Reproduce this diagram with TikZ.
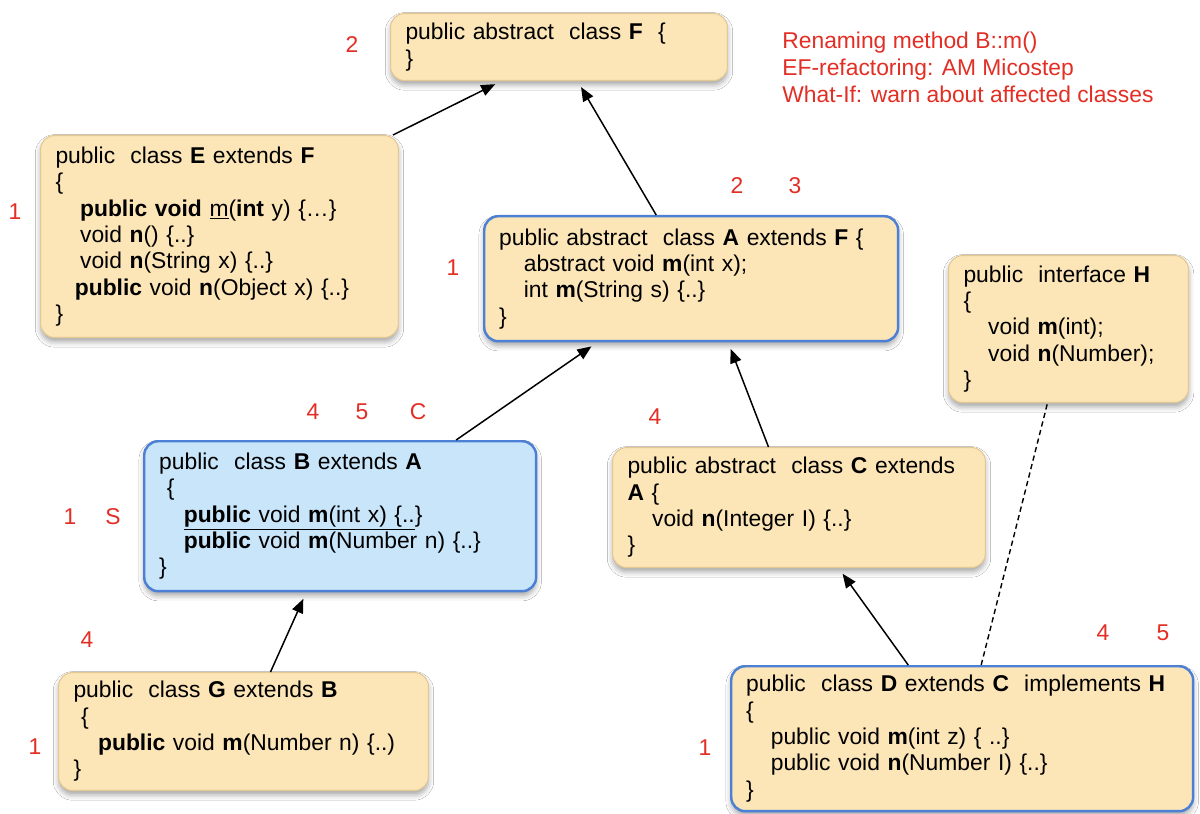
\documentclass[tikz,border=0pt]{standalone}
\usepackage{fontspec}
\setmainfont{Liberation Sans}
\usetikzlibrary{arrows.meta, shadows.blur}

\definecolor{boxfill}{RGB}{252,229,182}
\definecolor{boxline}{RGB}{228,200,148}
\definecolor{pickline}{RGB}{76,128,212}
\definecolor{pickfill}{RGB}{200,229,250}
\definecolor{notered}{RGB}{226,46,36}

\tikzstyle{classbox} = [rectangle, rounded corners=8pt, anchor=north west, align=left, inner xsep=0.3cm, inner ysep=0pt, fill=boxfill, draw=boxline, line width=0.6pt, blur shadow={shadow xshift=0pt, shadow yshift=-2.5pt, shadow blur radius=3pt, shadow opacity=35}, font=\fontsize{13}{15}\selectfont]
\tikzstyle{touched} = [classbox, draw=pickline, line width=1.4pt]
\tikzstyle{renamed} = [touched, fill=pickfill]
\tikzstyle{num} = [text=notered, font=\fontsize{13}{15.3}\selectfont]
\tikzstyle{arrow} = [line width=0.85pt, -{Triangle[length=8pt,width=6.5pt]}, shorten >=4pt]
\tikzstyle{realizes} = [line width=0.8pt, dash pattern=on 3pt off 2pt]

\newcommand{\ind}{\hspace*{14pt}}

\begin{document}
\begin{tikzpicture}[x=0.02cm, y=-0.02cm]
        \fill [white] (0,0) rectangle (1200,814);
        \useasboundingbox (0,0) rectangle (1200,814);

        \node (F) [classbox, minimum height=1.34cm, text width=6.14cm] at (390,13) {public abstract\ \ class \textbf{F} \ \{\\\}};
        \node (E) [classbox, minimum height=4.04cm, text width=6.56cm] at (40,135) {public\ \ class \textbf{E} extends \textbf{F}\\\{\\\ind\textbf{public void} \underline{m}(\textbf{int} y) \{…\}\\\ind void \textbf{n}() \{..\}\\\ind void \textbf{n}(String x) \{..\}\\\hspace*{11pt}\textbf{public} void \textbf{n}(Object x) \{..\}\\\}};
        \node (A) [touched, minimum height=2.5cm, text width=7.68cm] at (483,215) {public abstract\ \ class \textbf{A} extends \textbf{F} \{\\\ind abstract void \textbf{m}(int x);\\\ind int \textbf{m}(String s) \{..\}\\\}};
        \node (H) [classbox, minimum height=2.94cm, text width=4.2cm] at (948,255) {public\ \ interface \textbf{H}\\\{\\\ind void \textbf{m}(int);\\\ind void \textbf{n}(Number);\\\}};
        \node (B) [renamed, minimum height=3.0cm, text width=7.24cm] at (143,440) {public\ \ class \textbf{B} extends \textbf{A}\\\ \{\\\ind\underline{\textbf{public} void \textbf{m}(int x) \{..}\}\\\ind\textbf{public} void \textbf{m}(Number n) \{..\}\\\}};
        \node (C) [classbox, minimum height=2.4cm, text width=6.86cm] at (612,447) {public abstract\ \ class \textbf{C} extends\\\textbf{A} \{\\\ind void \textbf{n}(Integer I) \{..\}\\\}};
        \node (G) [classbox, minimum height=2.36cm, text width=6.8cm] at (58,672) {public\ \ class \textbf{G} extends \textbf{B}\\\ \{\\\ind\textbf{public} void \textbf{m}(Number n) \{..)\\\}};
        \node (D) [touched, minimum height=2.9cm, text width=8.64cm] at (730,665) {public\ \ class \textbf{D} extends \textbf{C}\ \ implements \textbf{H}\\\{\\\ind public void \textbf{m}(int z) \{ ..\}\\\ind public void \textbf{n}(Number I) \{..\}\\\}};

        % step numbers
        \node (F2) [num] at (352,45) {2};
        \node (E1) [num] at (15,212) {1};
        \node (A2) [num] at (737,186) {2};
        \node (A3) [num] at (795,186) {3};
        \node (A1) [num] at (453,268) {1};
        \node (B4) [num] at (313,412) {4};
        \node (B5) [num] at (362,412) {5};
        \node (BC) [num] at (418,412) {C};
        \node (B1) [num] at (70,517) {1};
        \node (BS) [num] at (113,517) {S};
        \node (C4) [num] at (655,417) {4};
        \node (G4) [num] at (87,640) {4};
        \node (G1) [num] at (35,747) {1};
        \node (D4) [num] at (1103,633) {4};
        \node (D5) [num] at (1163,633) {5};
        \node (D1) [num] at (705,748) {1};

        \node (plan) [num, anchor=north west, align=left, inner sep=0pt] at (782,32) {Renaming method B::m()\\EF-refactoring: AM Micostep\\What-If: warn about affected classes};

        \draw [arrow] ([xshift=-0.12cm]E.north east) -- ([xshift=-1.15cm]F.south);
        \draw [arrow] ([xshift=-0.7cm]A.north) -- ([xshift=0.37cm]F.south);
        \draw [arrow] ([xshift=2.32cm]B.north) -- ([xshift=-1.88cm]A.south);
        \draw [arrow] ([xshift=-0.61cm]C.north) -- ([xshift=0.74cm]A.south);
        \draw [arrow] ([xshift=0.54cm]G.north) -- ([xshift=-0.68cm]B.south);
        \draw [arrow] ([xshift=-1.08cm]D.north) -- ([xshift=0.79cm]C.south);
        \draw [realizes] ([xshift=0.38cm]D.north) -- ([xshift=-0.42cm]H.south);
\end{tikzpicture}
\end{document}
